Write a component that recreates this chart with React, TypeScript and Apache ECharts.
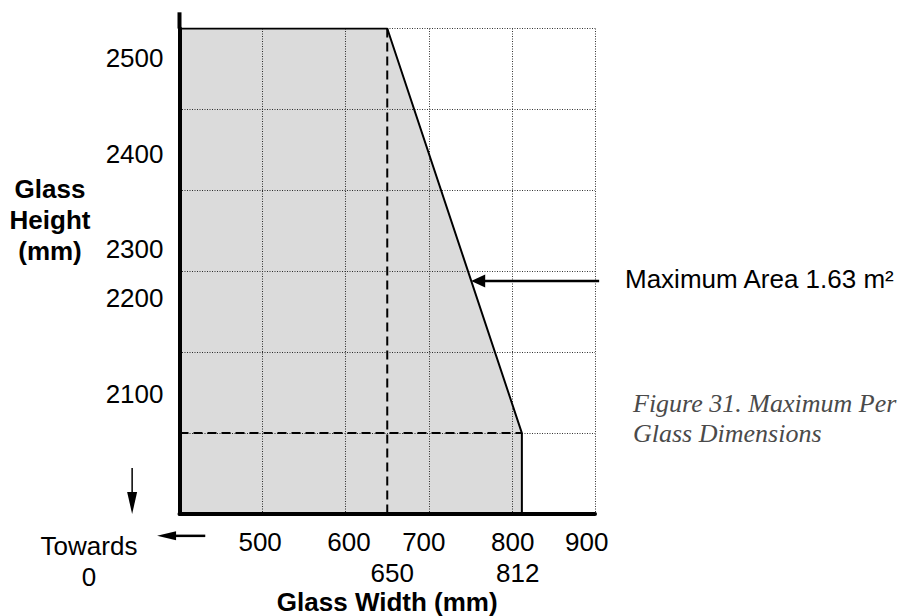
import React, { useEffect, useRef } from 'react';
import * as echarts from 'echarts';

// Axis ranges (mm)
const widthMin = 400;
const widthMax = 900;
const heightMin = 1900;
const heightMax = 2500;
const heightAxisTop = 2520;

// Permitted glass envelope (width, height)
const envelopeWidths = [400, 400, 650, 812, 812];
const envelopeHeights = [1900, 2500, 2500, 2000, 1900];

// Dashed reference lines
const widthRefX = [650, 650];
const widthRefY = [2500, 1900];
const heightRefX = [400, 812];
const heightRefY = [2000, 2000];

// Tick labels as printed, and where the original prints them
const xTickLabels = ['500', '600', '700', '800', '900'];
const xTickLabelAt = [497, 604, 694, 801, 890];
const xMarkLabels = ['650', '812'];
const xMarkLabelAt = [656, 807];
const yTickLabels = ['2500', '2400', '2300', '2200', '2100'];
const yTickLabelAt = [2464, 2345.5, 2228, 2167.5, 2048];

// Annotation arrows [fromX, fromY, toX, toY]
const maxAreaArrow = [905, 2188, 751, 2188];
const towardsZeroDown = [343, 1957, 343, 1900];
const towardsZeroLeft = [431, 1873, 373, 1873];

const SANS = '"Liberation Sans", Arial, sans-serif';

export default function App() {
  const ref = useRef<HTMLDivElement>(null);

  useEffect(() => {
    if (!ref.current) return;
    const chart = echarts.init(ref.current, null, { renderer: 'svg' });

    const envelope = envelopeWidths.map((w, i) => [w, envelopeHeights[i]]);
    const arrowStyles = [
      { head: 14, half: 6.5, width: 2.5 },
      { head: 22, half: 5, width: 1.5 },
      { head: 19, half: 4.5, width: 2.5 },
    ];

    const labelFor = (vals: number[], labels: string[]) => (v: number) => {
      let best = 0;
      for (let i = 1; i < vals.length; i++) {
        if (Math.abs(vals[i] - v) < Math.abs(vals[best] - v)) best = i;
      }
      return labels[best];
    };

    const gridLine = { show: true, lineStyle: { color: '#333', width: 1, type: [1, 1.5] as any } };

    chart.setOption({
      animation: false,
      backgroundColor: '#fff',
      grid: {
        left: 179.5,
        top: 28.5,
        right: 308,
        bottom: 102,
        containLabel: false,
        outerBoundsMode: 'none',
      },
      xAxis: [
        {
          type: 'value',
          min: widthMin,
          max: widthMax,
          interval: 100,
          position: 'bottom',
          axisLine: { show: true, onZero: false, lineStyle: { color: '#000', width: 4 } },
          axisTick: { show: false },
          axisLabel: { show: false },
          splitLine: { ...gridLine, showMinLine: false },
          name: 'Glass Width (mm)',
          nameLocation: 'middle',
          nameGap: 75,
          nameTextStyle: { fontFamily: SANS, fontSize: 26, fontWeight: 'bold', color: '#000' },
        },
        {
          type: 'value',
          min: widthMin,
          max: widthMax,
          position: 'bottom',
          axisLine: { show: false },
          axisTick: { show: false },
          splitLine: { show: false },
          axisLabel: {
            customValues: xTickLabelAt,
            formatter: labelFor(xTickLabelAt, xTickLabels),
            margin: 15,
            fontFamily: SANS,
            fontSize: 26,
            color: '#000',
          },
        },
        {
          type: 'value',
          min: widthMin,
          max: widthMax,
          position: 'bottom',
          offset: 31,
          axisLine: { show: false },
          axisTick: { show: false },
          splitLine: { show: false },
          axisLabel: {
            customValues: xMarkLabelAt,
            formatter: labelFor(xMarkLabelAt, xMarkLabels),
            margin: 15,
            fontFamily: SANS,
            fontSize: 26,
            color: '#000',
          },
        },
      ],
      yAxis: [
        {
          type: 'value',
          min: heightMin,
          max: heightMax,
          interval: 100,
          position: 'left',
          axisLine: { show: true, onZero: false, lineStyle: { color: '#000', width: 4 } },
          axisTick: { show: false },
          axisLabel: { show: false },
          splitLine: { ...gridLine, showMinLine: false },
        },
        {
          type: 'value',
          min: heightMin,
          max: heightMax,
          position: 'left',
          axisLine: { show: false },
          axisTick: { show: false },
          splitLine: { show: false },
          axisLabel: {
            customValues: yTickLabelAt,
            formatter: labelFor(yTickLabelAt, yTickLabels),
            margin: 16,
            fontFamily: SANS,
            fontSize: 26,
            color: '#000',
          },
        },
      ],
      series: [
        {
          type: 'line',
          name: 'envelope',
          data: envelope,
          symbol: 'none',
          z: 3,
          lineStyle: { color: '#000', width: 2 },
          areaStyle: { color: 'rgba(0,0,0,0.14)', opacity: 1, origin: 'start' },
        },
        {
          type: 'line',
          name: 'axis extension',
          data: [[widthMin, heightMax], [widthMin, heightAxisTop]],
          symbol: 'none',
          clip: false,
          z: 4,
          lineStyle: { color: '#000', width: 4 },
        },
        {
          type: 'line',
          name: 'width 650',
          data: widthRefX.map((x, i) => [x, widthRefY[i]]),
          symbol: 'none',
          z: 4,
          lineStyle: { color: '#000', width: 2, type: [9, 5] },
        },
        {
          type: 'line',
          name: 'height 2000',
          data: heightRefX.map((x, i) => [x, heightRefY[i]]),
          symbol: 'none',
          z: 4,
          lineStyle: { color: '#000', width: 2, type: [9, 5] },
        },
        {
          type: 'custom',
          name: 'arrows',
          clip: false,
          z: 5,
          data: [maxAreaArrow, towardsZeroDown, towardsZeroLeft],
          encode: { x: [0, 2], y: [1, 3] },
          renderItem: (params: any, api: any) => {
            const p1 = api.coord([api.value(0), api.value(1)]);
            const p2 = api.coord([api.value(2), api.value(3)]);
            const s = arrowStyles[params.dataIndex];
            const dx = p2[0] - p1[0];
            const dy = p2[1] - p1[1];
            const len = Math.hypot(dx, dy) || 1;
            const ux = dx / len;
            const uy = dy / len;
            const bx = p2[0] - ux * s.head;
            const by = p2[1] - uy * s.head;
            const nx = -uy;
            const ny = ux;
            return {
              type: 'group',
              children: [
                {
                  type: 'line',
                  shape: { x1: p1[0], y1: p1[1], x2: bx + ux * 2, y2: by + uy * 2 },
                  style: { stroke: '#000', lineWidth: s.width },
                },
                {
                  type: 'polygon',
                  shape: {
                    points: [
                      [p2[0], p2[1]],
                      [bx + nx * s.half, by + ny * s.half],
                      [bx - nx * s.half, by - ny * s.half],
                    ],
                  },
                  style: { fill: '#000' },
                },
              ],
            };
          },
        },
      ],
      graphic: [
        {
          type: 'text',
          x: 50,
          y: 220,
          style: {
            text: 'Glass\nHeight\n(mm)',
            fontFamily: SANS,
            fontSize: 26,
            fontWeight: 'bold',
            lineHeight: 31,
            align: 'center',
            verticalAlign: 'middle',
            fill: '#000',
          },
        },
        {
          type: 'text',
          x: 89,
          y: 561,
          style: {
            text: 'Towards\n0',
            fontFamily: SANS,
            fontSize: 26,
            lineHeight: 31,
            align: 'center',
            verticalAlign: 'middle',
            fill: '#000',
          },
        },
        {
          type: 'text',
          x: 625,
          y: 279,
          style: {
            text: 'Maximum Area 1.63 m²',
            fontFamily: SANS,
            fontSize: 26,
            align: 'left',
            verticalAlign: 'middle',
            fill: '#000',
          },
        },
        {
          type: 'text',
          x: 633,
          y: 418,
          style: {
            text: 'Figure 31. Maximum Per\nGlass Dimensions',
            fontFamily: '"Liberation Serif", serif',
            fontStyle: 'italic',
            fontSize: 26,
            lineHeight: 30,
            align: 'left',
            verticalAlign: 'middle',
            fill: '#4a4a4a',
          },
        },
      ],
    });

    return () => chart.dispose();
  }, []);

  return (
    <div
      ref={ref}
      style={{ position: 'fixed', left: 0, top: 0, width: 903, height: 616, background: '#fff' }}
    />
  );
}
